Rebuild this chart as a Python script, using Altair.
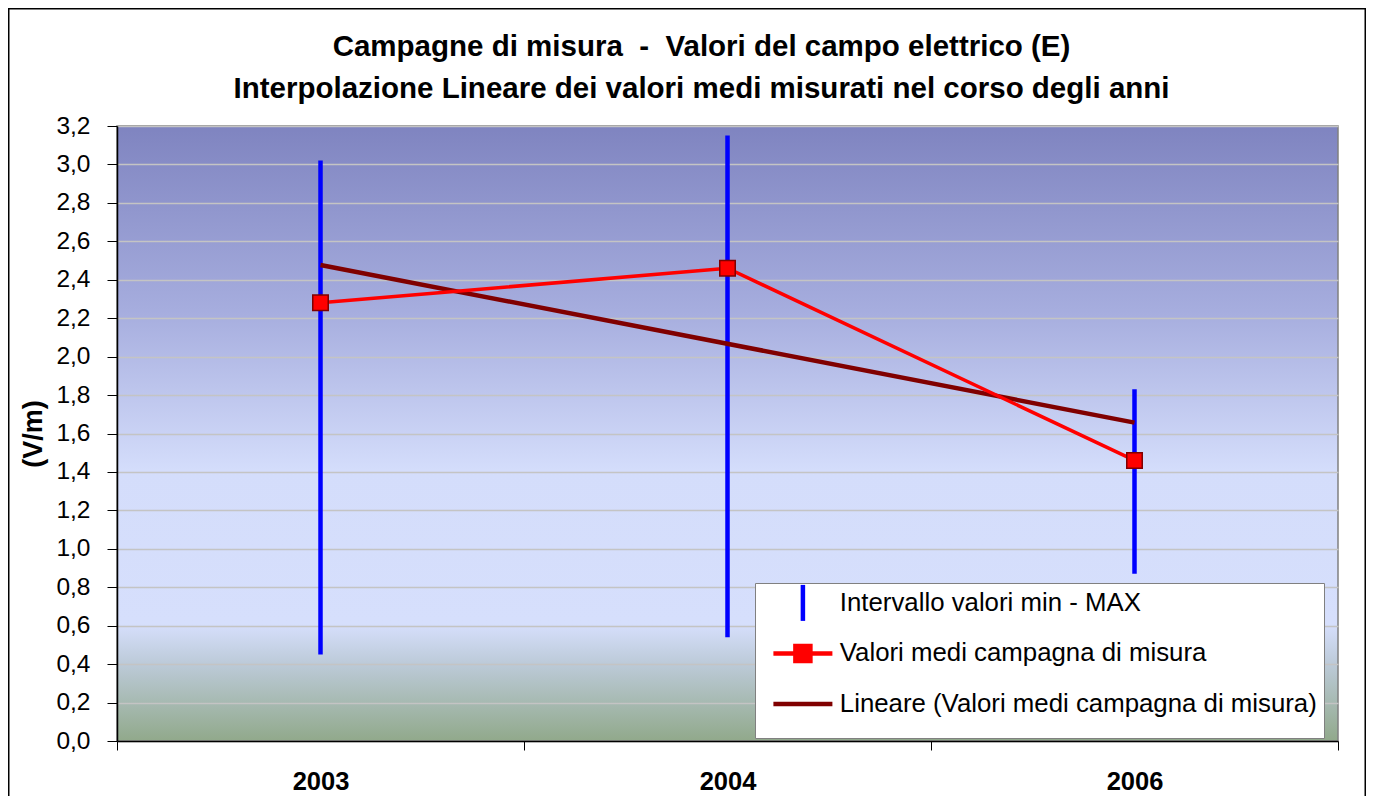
import altair as alt
import pandas as pd

# ---- data ----
years = ["2003", "2004", "2006"]
year_index = [1, 2, 3]
v_min = [0.45, 0.54, 0.87]
v_max = [3.02, 3.15, 1.83]
v_mean = [2.28, 2.46, 1.46]

series = [
    "Intervallo valori min - MAX",
    "Valori medi campagna di misura",
    "Lineare (Valori medi campagna di misura)",
]
series_colors = ["#0000FF", "#FF0000", "#800000"]
y_ticks = [0.0, 0.2, 0.4, 0.6, 0.8, 1.0, 1.2, 1.4, 1.6, 1.8, 2.0, 2.2, 2.4, 2.6, 2.8, 3.0, 3.2]
title_lines = [
    "Campagne di misura \u00a0-\u00a0 Valori del campo elettrico (E)",
    "Interpolazione Lineare dei valori medi misurati nel corso degli anni",
]

df = pd.DataFrame({"year": years, "idx": year_index, "vmin": v_min, "vmax": v_max, "mean": v_mean})

FONT = "Liberation Sans"
W, H = 1221, 615

color_scale = alt.Scale(domain=series, range=series_colors)

# legend symbols: the move-only sub-paths give every entry the same height
shape_expr = (
    f"datum.value == '{series[0]}' ? 'M0,-1.8V1.8' : "
    f"(datum.value == '{series[1]}' ? 'M0,-1.8M0,1.8M-2.95,0H2.95M-0.75,-0.75H0.75V0.75H-0.75Z' "
    f": 'M0,-1.8M0,1.8M-2.95,0H2.95')"
)
fill_expr = f"datum.value == '{series[1]}' ? '#FF0000' : 'transparent'"

legend = alt.Legend(
    title=None,
    orient="none",
    legendX=638,
    legendY=457,
    direction="vertical",
    fillColor="white",
    strokeColor="#808080",
    padding=7,
    labelFont=FONT,
    labelFontSize=25.8,
    labelColor="black",
    labelOffset=24,
    labelLimit=700,
    rowPadding=-4.5,
    symbolSize=400,
    symbolStrokeWidth=4.5,
    symbolOffset=28,
    symbolType={"expr": shape_expr},
    symbolFillColor={"expr": fill_expr},
)

x_enc = alt.X(
    "year:O",
    scale=alt.Scale(type="band", domain=years, paddingInner=0, paddingOuter=0),
    axis=alt.Axis(
        title=None,
        tickBand="extent",
        labelFont=FONT,
        labelFontSize=25.5,
        labelFontWeight="bold",
        labelColor="black",
        labelAngle=0,
        labelPadding=19,
        tickSize=9,
        tickColor="black",
        domainColor="black",
        domainWidth=1.5,
        grid=False,
    ),
)

y_scale = alt.Scale(domain=[0, 3.2], nice=False)
y_axis = alt.Axis(
    title="(V/m)",
    values=y_ticks,
    labelExpr="replace(format(datum.value, '.1f'), '.', ',')",
    labelOverlap=False,
    labelFont=FONT,
    labelFontSize=24.5,
    labelColor="black",
    labelPadding=17,
    tickSize=10,
    tickColor="black",
    domainColor="black",
    domainWidth=1.5,
    grid=True,
    gridColor="#C4C4C4",
    gridWidth=1.5,
    titleFont=FONT,
    titleFontSize=27,
    titleFontWeight="bold",
    titleColor="black",
    titlePadding=8,
)


def y_enc(field):
    return alt.Y(field, scale=y_scale, axis=y_axis)


color_enc = alt.Color("series:N", scale=color_scale, legend=legend)

base = alt.Chart(df)

bars = base.transform_calculate(series=f"'{series[0]}'").mark_rule(strokeWidth=4.5).encode(
    x=x_enc, y=y_enc("vmin:Q"), y2="vmax:Q", color=color_enc
)

year_array = "[" + ",".join(f"'{y}'" for y in years) + "]"
trend = (
    base.transform_regression("idx", "mean", method="linear")
    .transform_calculate(year=f"{year_array}[round(datum.idx) - 1]", series=f"'{series[2]}'")
    .mark_line(strokeWidth=4.5)
    .encode(x=x_enc, y=y_enc("mean:Q"), color=color_enc)
)

mean_line = base.transform_calculate(series=f"'{series[1]}'").mark_line(strokeWidth=3.5).encode(
    x=x_enc, y=y_enc("mean:Q"), color=color_enc
)

points = base.mark_point(
    shape="square", size=240, filled=True, fill="#FF0000", stroke="#800000", strokeWidth=1.5, opacity=1
).encode(x=x_enc, y=y_enc("mean:Q"))

frame = alt.Chart(pd.DataFrame({"f": [0]})).mark_rect(
    filled=False, fill="transparent", stroke="black", strokeWidth=1.5
).encode(
    x=alt.value(-108.25), x2=alt.value(W + 27.25), y=alt.value(-117.25), y2=alt.value(H + 70)
)

bg_expr = (
    "{gradient: 'linear', x1: 0, y1: 0, x2: 0, y2: 1, stops: ["
    "{offset: 0, color: '#7F84C0'}, {offset: 0.3, color: '#A6ADDE'}, {offset: 0.56, color: '#D4DDFB'}, "
    "{offset: 0.81, color: '#D6DFFC'}, {offset: 0.875, color: '#BCCAD8'}, {offset: 1, color: '#91A98B'}]}"
)

chart = (
    alt.layer(bars, trend, mean_line, points, frame)
    .properties(
        width=W,
        height=H,
        autosize=alt.AutoSizeParams(type="none"),
        padding={"left": 109, "top": 118, "right": 28, "bottom": 55},
        title=alt.TitleParams(
            text=title_lines,
            font=FONT,
            fontSize=29.5,
            fontWeight="bold",
            color="black",
            anchor="middle",
            baseline="bottom",
            dx=-26,
            lineHeight=42,
            offset=-125,
        ),
        background="white",
    )
    .configure_view(fill={"expr": bg_expr}, stroke="#808080", strokeWidth=1.5)
)

chart.save("out.html", embed_options={"renderer": "svg", "actions": False})
